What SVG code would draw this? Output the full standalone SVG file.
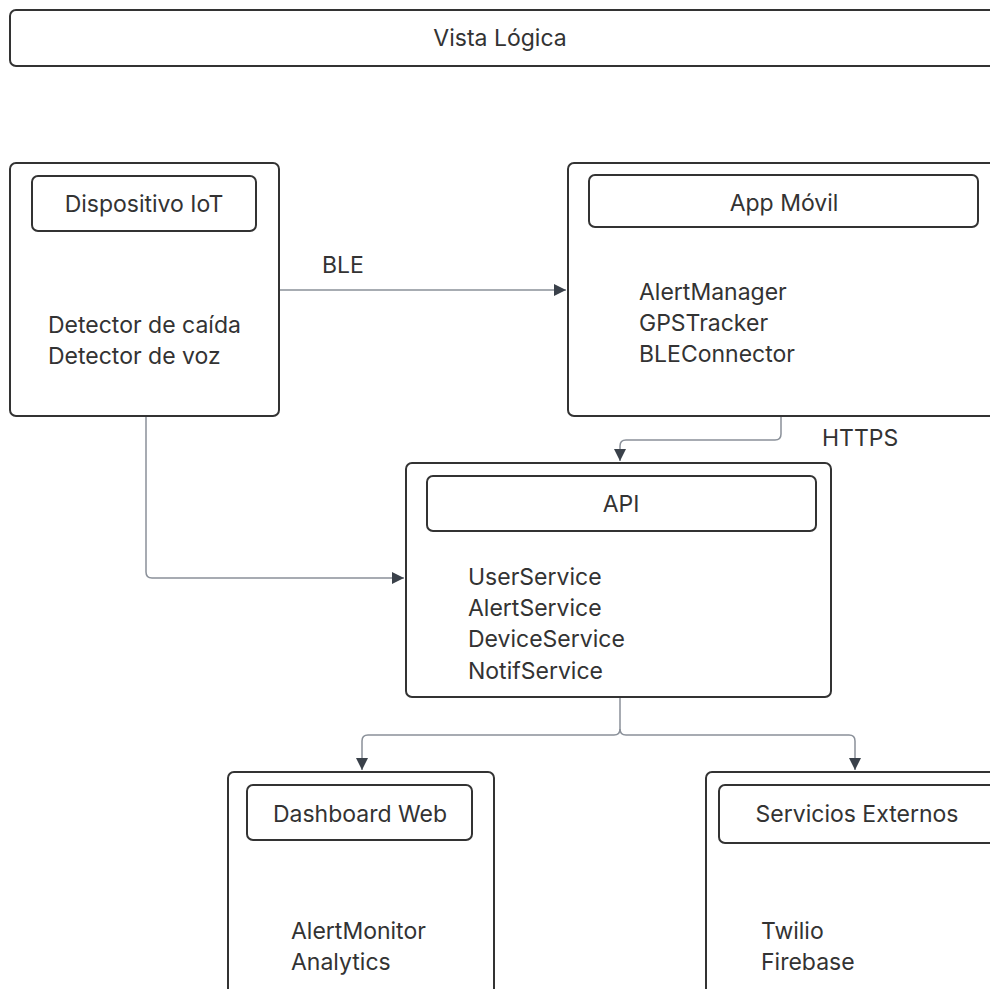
<svg xmlns="http://www.w3.org/2000/svg" width="990" height="989" viewBox="0 0 990 989">
<defs>
<marker id="arr" viewBox="0 0 10 10" refX="10" refY="5" markerWidth="12" markerHeight="13" markerUnits="userSpaceOnUse" orient="auto">
<path d="M0,0 L10,5 L0,10 z" fill="#3a414a"/>
</marker>
<style>
.box{fill:#fff;stroke:#333;stroke-width:2}
.hdr{fill:#fff;stroke:#333;stroke-width:2}
.t{font-family:Inter,"Liberation Sans",sans-serif;font-size:23px;fill:#333}
.c{text-anchor:middle}
.ln{fill:none;stroke:#8a9099;stroke-width:1.5}
</style>
</defs>
<rect width="990" height="989" fill="#fff"/>
<g id="title">
<rect class="box" x="10" y="10" width="990" height="56" rx="6"/>
<text class="t c" x="500" y="46">Vista Lógica</text>
</g>
<g id="connectors">
<path class="ln" d="M279,290 H566" marker-end="url(#arr)"/>
<text class="t" x="322" y="273">BLE</text>
<path class="ln" d="M781,416 V434 Q781,440 775,440 H626 Q620,440 620,446 V461" marker-end="url(#arr)"/>
<text class="t" x="822" y="446">HTTPS</text>
<path class="ln" d="M146,416 V572 Q146,578 152,578 H404" marker-end="url(#arr)"/>
<path class="ln" d="M620,697 V729 Q620,735 614,735 H368 Q362,735 362,741 V770" marker-end="url(#arr)"/>
<path class="ln" d="M620,729 Q620,735 626,735 H849 Q855,735 855,741 V770" marker-end="url(#arr)"/>
</g>
<g id="iot">
<rect class="box" x="10" y="163" width="269" height="253" rx="6"/>
<rect class="hdr" x="32" y="176" width="224" height="55" rx="6"/>
<text class="t c" x="144" y="212">Dispositivo IoT</text>
<text class="t" x="48" y="333">Detector de caída</text>
<text class="t" x="48" y="364">Detector de voz</text>
</g>
<g id="app">
<rect class="box" x="568" y="163" width="440" height="253" rx="6"/>
<rect class="hdr" x="589" y="175" width="389" height="52" rx="6"/>
<text class="t c" x="784" y="211">App Móvil</text>
<text class="t" x="639" y="300">AlertManager</text>
<text class="t" x="639" y="331">GPSTracker</text>
<text class="t" x="639" y="362">BLEConnector</text>
</g>
<g id="api">
<rect class="box" x="406" y="463" width="425" height="234" rx="6"/>
<rect class="hdr" x="427" y="476" width="389" height="55" rx="6"/>
<text class="t c" x="621" y="512">API</text>
<text class="t" x="468" y="585">UserService</text>
<text class="t" x="468" y="616">AlertService</text>
<text class="t" x="468" y="647">DeviceService</text>
<text class="t" x="468" y="679">NotifService</text>
</g>
<g id="dashboard">
<rect class="box" x="228" y="772" width="266" height="240" rx="6"/>
<rect class="hdr" x="247" y="785" width="225" height="55" rx="6"/>
<text class="t c" x="360" y="822">Dashboard Web</text>
<text class="t" x="291" y="939">AlertMonitor</text>
<text class="t" x="291" y="970">Analytics</text>
</g>
<g id="externos">
<rect class="box" x="706" y="772" width="300" height="240" rx="6"/>
<rect class="hdr" x="719" y="785" width="290" height="58" rx="6"/>
<text class="t c" x="857" y="822">Servicios Externos</text>
<text class="t" x="761" y="939">Twilio</text>
<text class="t" x="761" y="970">Firebase</text>
</g>
</svg>
